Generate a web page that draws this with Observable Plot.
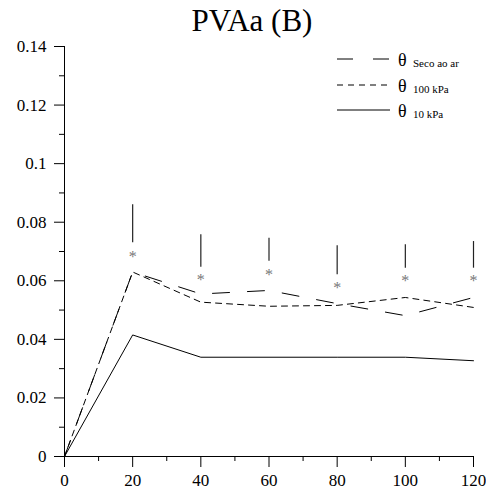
<!DOCTYPE html>
<html><head><meta charset="utf-8">
<script src="https://cdn.jsdelivr.net/npm/d3@7"></script>
<script src="https://cdn.jsdelivr.net/npm/@observablehq/plot@0.6"></script>
<style>
body{margin:0;background:#fff}
#wrap{position:relative;width:486px;height:493px;font-family:"Liberation Serif","Times New Roman",serif}
#wrap svg, #wrap svg text{font-family:"Liberation Serif","Times New Roman",serif !important}
#legend{position:absolute;left:0;top:0}
</style>
</head><body><div id="wrap"></div>
<script>
const title = "PVAa (B)";
const xValues = [0, 20, 40, 60, 80, 100, 120];
const secoAoAr = [0, 0.063, 0.0555, 0.0567, 0.0522, 0.0481, 0.0543];
const kPa100 = [0, 0.063, 0.0527, 0.0513, 0.0516, 0.0543, 0.0509];
const kPa10 = [0, 0.0415, 0.0339, 0.0339, 0.0339, 0.0339, 0.0327];
const markX = [20, 40, 60, 80, 100, 120];
const markTop = [0.0860, 0.0757, 0.0745, 0.0720, 0.0723, 0.0734];
const markBottom = [0.0730, 0.0646, 0.0667, 0.0621, 0.0643, 0.0643];
const markStar = [0.0686, 0.0608, 0.0624, 0.0578, 0.0603, 0.0603];
const seriesNames = ["Seco ao ar", "100 kPa", "10 kPa"];
const yTicks = [0, 0.02, 0.04, 0.06, 0.08, 0.1, 0.12, 0.14];
const yMinorTicks = [0.01, 0.03, 0.05, 0.07, 0.09, 0.11, 0.13];
const xTicks = [0, 20, 40, 60, 80, 100, 120];
const xMinorTicks = [10, 30, 50, 70, 90, 110];

const dashes = {"Seco ao ar": "17,18", "100 kPa": "6,5", "10 kPa": null};
const seriesValues = [secoAoAr, kPa100, kPa10];
const lineData = seriesNames.flatMap((s, i) => xValues.map((x, j) => ({series: s, x, y: seriesValues[i][j]})));
const marks = markX.map((x, i) => ({x, top: markTop[i], bottom: markBottom[i], star: markStar[i]}));
const font = "'Liberation Serif', 'Times New Roman', serif";

const chart = Plot.plot({
  width: 486, height: 493,
  marginLeft: 64, marginRight: 13, marginTop: 46, marginBottom: 37,
  style: {fontFamily: font, fontSize: "17px", background: "#fff", color: "#000", overflow: "visible"},
  x: {domain: [0, 120]},
  y: {domain: [0, 0.14]},
  marks: [
    Plot.axisY({ticks: yTicks, tickSize: 10, tickPadding: 8, tickFormat: d => String(+d.toFixed(2)), label: null, fontSize: 17, fontFamily: font}),
    Plot.axisY({ticks: yMinorTicks, tickSize: 5, text: null, label: null}),
    Plot.axisX({ticks: xTicks, tickSize: 11, tickPadding: 6, tickFormat: d => String(d), label: null, fontSize: 17, fontFamily: font}),
    Plot.axisX({ticks: xMinorTicks, tickSize: 5, text: null, label: null}),
    Plot.ruleX([0], {stroke: "#000"}),
    Plot.ruleY([0], {stroke: "#000"}),
    ...seriesNames.map(s => Plot.line(lineData.filter(d => d.series === s), {x: "x", y: "y", stroke: "#000", strokeWidth: 1, strokeDasharray: dashes[s]})),
    Plot.ruleX(marks, {x: "x", y1: "bottom", y2: "top", stroke: "#222", strokeWidth: 1.2}),
    Plot.text(marks, {x: "x", y: "star", text: () => "*", fill: "#777", fontSize: 16, dy: 1}),
    Plot.text([title], {frameAnchor: "top", dx: -17, dy: -16, lineAnchor: "bottom", fontSize: 31, fontFamily: font, fill: "#000"})
  ]
});
const wrap = document.getElementById("wrap");
wrap.appendChild(chart);

// legend overlay
const legendRows = [59, 85, 110];
const svg = d3.select(wrap).append("svg").attr("id", "legend").attr("width", 486).attr("height", 140);
seriesNames.forEach((s, i) => {
  const y = legendRows[i];
  svg.append("line").attr("x1", 337).attr("x2", 390).attr("y1", y).attr("y2", y)
    .attr("stroke", "#000").attr("stroke-width", 1).attr("stroke-dasharray", s === "Seco ao ar" ? "16,20" : dashes[s]);
  svg.append("text").attr("x", 398).attr("y", y + 6.5).attr("font-size", 18).text("θ");
  svg.append("text").attr("x", 413).attr("y", y + 7.5).attr("font-size", 11).text(s);
});
</script>
</body></html>
